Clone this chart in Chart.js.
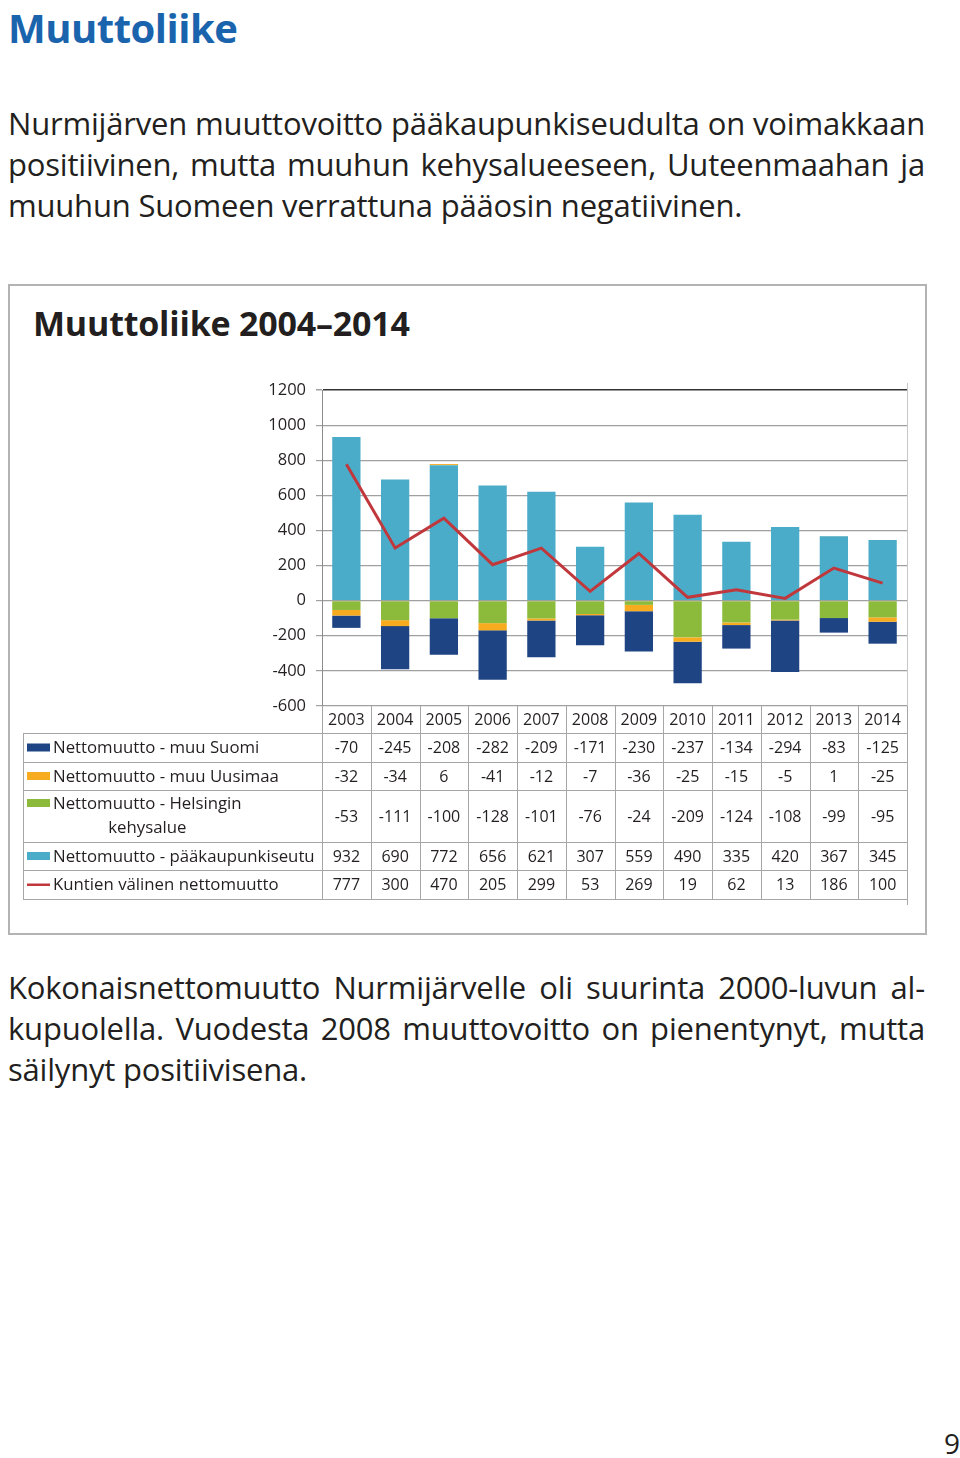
<!DOCTYPE html>
<html>
<head>
<meta charset="utf-8">
<script src="https://cdn.jsdelivr.net/npm/chart.js@4"></script>
<style>
  body { margin: 0; background: #fff; width: 960px; height: 1458px; position: relative; font-family: "Open Sans", sans-serif; color: #231f20; overflow: hidden; }
  .h1 { position: absolute; left: 8px; top: 0px; font-size: 40px; font-weight: bold; color: #1a64ad; letter-spacing: -0.5px; }
  .para { position: absolute; left: 8px; width: 917px; font-size: 31px; line-height: 41px; letter-spacing: -0.2px; }
  .para div { text-align: justify; text-align-last: justify; white-space: nowrap; }
  .para div.last { text-align-last: left; }
  .box { position: absolute; left: 8px; top: 284px; width: 915px; height: 647px; border: 2px solid #b3b3b3; }
  .ctitle { position: absolute; left: 33px; top: 300px; font-size: 34px; font-weight: bold; color: #231f20; letter-spacing: -0.2px; }
  #wrap { position: absolute; left: 8px; top: 284px; width: 919px; height: 651px; }
  .pnum { position: absolute; left: 944px; top: 1424px; font-size: 28px; }
</style>
</head>
<body>
<div class="h1">Muuttoliike</div>
<div class="para" style="top:103px">
  <div>Nurmijärven muuttovoitto pääkaupunkiseudulta on voimakkaan</div>
  <div>positiivinen, mutta muuhun kehysalueeseen, Uuteenmaahan ja</div>
  <div class="last">muuhun Suomeen verrattuna pääosin negatiivinen.</div>
</div>
<div class="box"></div>
<div class="ctitle">Muuttoliike 2004–2014</div>
<div id="wrap"><canvas id="myChart" width="919" height="651"></canvas></div>
<div class="para" style="top:967px">
  <div>Kokonaisnettomuutto Nurmijärvelle oli suurinta 2000-luvun al-</div>
  <div>kupuolella. Vuodesta 2008 muuttovoitto on pienentynyt, mutta</div>
  <div class="last">säilynyt positiivisena.</div>
</div>
<div class="pnum">9</div>
<script>
var years = ['2003', '2004', '2005', '2006', '2007', '2008', '2009', '2010', '2011', '2012', '2013', '2014'];
var muuSuomi = [-70, -245, -208, -282, -209, -171, -230, -237, -134, -294, -83, -125];
var muuUusimaa = [-32, -34, 6, -41, -12, -7, -36, -25, -15, -5, 1, -25];
var helsinginKehys = [-53, -111, -100, -128, -101, -76, -24, -209, -124, -108, -99, -95];
var paakaupunkiseutu = [932, 690, 772, 656, 621, 307, 559, 490, 335, 420, 367, 345];
var kuntienValinen = [777, 300, 470, 205, 299, 53, 269, 19, 62, 13, 186, 100];
var yTicks = [1200, 1000, 800, 600, 400, 200, 0, -200, -400, -600];

var cDark = '#1f4484', cOrange = '#f7ab1e', cGreen = '#8cbb3c', cLight = '#4aacc8', cRed = '#c0383c';

// rows of the data table under the chart
var rows = [
  { label: ['Nettomuutto - muu Suomi'], color: cDark, data: muuSuomi, h: 29 },
  { label: ['Nettomuutto - muu Uusimaa'], color: cOrange, data: muuUusimaa, h: 28 },
  { label: ['Nettomuutto - Helsingin', 'kehysalue'], color: cGreen, data: helsinginKehys, h: 52 },
  { label: ['Nettomuutto - pääkaupunkiseutu'], color: cLight, data: paakaupunkiseutu, h: 28 },
  { label: ['Kuntien välinen nettomuutto'], color: cRed, data: kuntienValinen, h: 29, line: true }
];

var tablePlugin = {
  id: 'dataTable',
  afterDraw: function(chart) {
    var ctx = chart.ctx;
    var x = chart.scales.x;
    var area = chart.chartArea;
    var step = x.getPixelForValue(1) - x.getPixelForValue(0);
    var left = 15, right = area.right;
    var top = area.bottom, headH = 27;
    var labelFont = '16.8px "Open Sans"', numFont = '16px "Open Sans"';
    ctx.save();
    ctx.strokeStyle = '#a6a6a6';
    ctx.lineWidth = 1;
    ctx.fillStyle = '#231f20';
    ctx.font = numFont;
    ctx.textBaseline = 'middle';
    ctx.textAlign = 'center';
    // header
    years.forEach(function(y, i) {
      ctx.fillText(y, x.getPixelForValue(i), top + headH / 2 + 1);
    });
    var bodyTop = top + headH;
    var yy = bodyTop;
    ctx.beginPath();
    ctx.moveTo(left, yy + 0.5); ctx.lineTo(right, yy + 0.5);
    rows.forEach(function(r) {
      var mid = yy + r.h / 2;
      // swatch
      ctx.fillStyle = r.color;
      if (r.line) ctx.fillRect(19, mid - 1, 23, 2.5);
      else ctx.fillRect(19, mid - (r.label.length > 1 ? 13 : 0) - 4, 23, 8);
      ctx.fillStyle = '#231f20';
      ctx.font = labelFont;
      ctx.textAlign = 'left';
      if (r.label.length > 1) {
        ctx.fillText(r.label[0], 45, mid - 12);
        var w0 = ctx.measureText(r.label[0]).width;
        ctx.textAlign = 'center';
        ctx.fillText(r.label[1], 45 + w0 / 2, mid + 12);
      } else {
        ctx.fillText(r.label[0], 45, mid + 1);
      }
      ctx.font = numFont;
      ctx.textAlign = 'center';
      r.data.forEach(function(v, i) {
        ctx.fillText(String(v), x.getPixelForValue(i), mid + 1);
      });
      yy += r.h;
      ctx.moveTo(left, Math.round(yy) + 0.5); ctx.lineTo(right, Math.round(yy) + 0.5);
    });
    // verticals
    ctx.moveTo(left + 0.5, bodyTop); ctx.lineTo(left + 0.5, yy);
    for (var i = 0; i <= years.length; i++) {
      var px = Math.round(area.left + i * step) + 0.5;
      ctx.moveTo(px, top); ctx.lineTo(px, yy + (i === years.length ? 6 : 0));
    }
    ctx.stroke();
    // right edge of plot
    ctx.strokeStyle = '#c8c8c8';
    ctx.beginPath();
    ctx.moveTo(Math.round(right) + 0.5, area.top - 7); ctx.lineTo(Math.round(right) + 0.5, area.bottom);
    ctx.stroke();
    ctx.restore();
  }
};

var ctx = document.getElementById('myChart').getContext('2d');
var myChart = new Chart(ctx, {
  type: 'bar',
  data: {
    labels: years,
    datasets: [
      { type: 'line', label: 'Kuntien välinen nettomuutto', data: kuntienValinen, borderColor: cRed, backgroundColor: cRed, borderWidth: 3, pointRadius: 0, tension: 0, stack: 'line', order: 0 },
      { label: 'Nettomuutto - pääkaupunkiseutu', data: paakaupunkiseutu, backgroundColor: cLight, stack: 's', order: 1 },
      { label: 'Nettomuutto - Helsingin kehysalue', data: helsinginKehys, backgroundColor: cGreen, stack: 's', order: 1 },
      { label: 'Nettomuutto - muu Uusimaa', data: muuUusimaa, backgroundColor: cOrange, stack: 's', order: 1 },
      { label: 'Nettomuutto - muu Suomi', data: muuSuomi, backgroundColor: cDark, stack: 's', order: 1 }
    ]
  },
  options: {
    responsive: false,
    animation: false,
    datasets: { bar: { barPercentage: 0.58, categoryPercentage: 1 } },
    layout: { padding: { top: 106, bottom: 229, right: 20, left: 0 } },
    scales: {
      x: { stacked: true, display: false },
      y: {
        stacked: true,
        min: -600, max: 1200,
        afterFit: function(scale) { scale.width = 314; },
        afterBuildTicks: function(scale) { scale.ticks = yTicks.map(function(v) { return { value: v }; }); },
        border: { color: '#8c8c8c', width: 1 },
        grid: {
          color: function(c) { return c.tick && c.tick.value === 1200 ? '#333' : '#a0a0a0'; },
          lineWidth: function(c) { return c.tick && c.tick.value === 1200 ? 1.5 : 1.2; },
          tickLength: 6,
          tickColor: '#a0a0a0'
        },
        ticks: {
          padding: 10, color: '#231f20', font: { family: 'Open Sans', size: 16.5 },
          callback: function(value) { return String(value); }
        }
      }
    },
    plugins: { legend: { display: false }, tooltip: { enabled: false } }
  },
  plugins: [tablePlugin]
});
</script>
</body>
</html>
